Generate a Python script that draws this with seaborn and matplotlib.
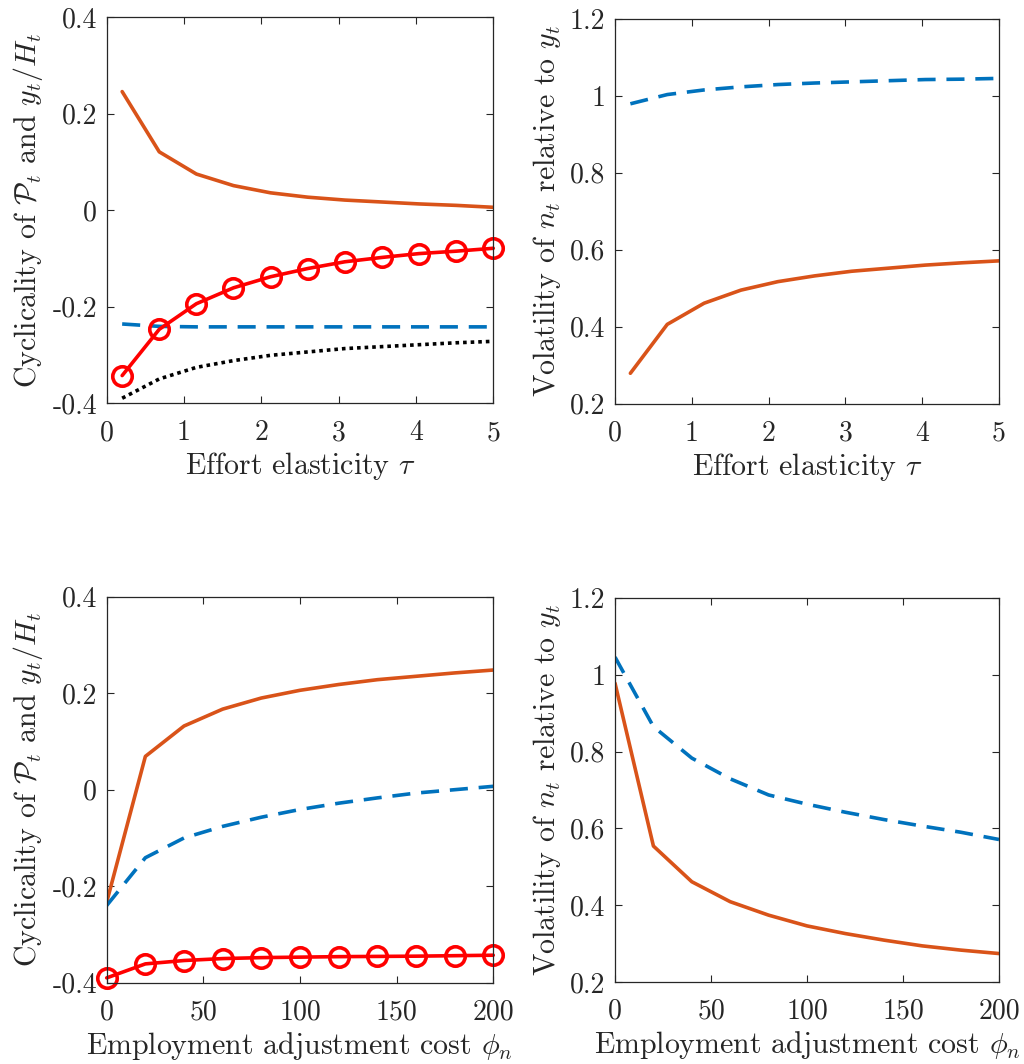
import numpy as np
import pandas as pd
import matplotlib
matplotlib.use("Agg")
import matplotlib.pyplot as plt
from matplotlib.ticker import FuncFormatter
import seaborn as sns

# ---------------- data ----------------
tau = [0.2, 0.68, 1.16, 1.64, 2.12, 2.6, 3.08, 3.56, 4.04, 4.52, 5.0]
phi_n = [0, 20, 40, 60, 80, 100, 120, 140, 160, 180, 200]

# top-left: cyclicality vs tau
tl_orange = [0.246, 0.121, 0.075, 0.051, 0.036, 0.027, 0.021, 0.017, 0.013, 0.010, 0.006]
tl_red = [-0.343, -0.247, -0.194, -0.161, -0.138, -0.121, -0.107, -0.098, -0.090, -0.085, -0.079]
tl_blue = [-0.236, -0.241, -0.242, -0.242, -0.242, -0.242, -0.242, -0.242, -0.242, -0.242, -0.242]
tl_black = [-0.390, -0.350, -0.326, -0.312, -0.301, -0.294, -0.287, -0.283, -0.279, -0.275, -0.272]

# top-right: volatility vs tau
tr_blue = [0.979, 1.003, 1.015, 1.023, 1.029, 1.033, 1.036, 1.039, 1.042, 1.043, 1.045]
tr_orange = [0.279, 0.406, 0.461, 0.495, 0.517, 0.532, 0.544, 0.552, 0.560, 0.566, 0.571]

# bottom-left: cyclicality vs phi_n
bl_orange = [-0.233, 0.069, 0.132, 0.167, 0.190, 0.206, 0.218, 0.228, 0.235, 0.242, 0.248]
bl_blue = [-0.240, -0.141, -0.100, -0.076, -0.057, -0.041, -0.028, -0.017, -0.007, 0.000, 0.007]
bl_red = [-0.390, -0.361, -0.354, -0.350, -0.348, -0.347, -0.346, -0.3455, -0.345, -0.344, -0.343]

# bottom-right: volatility vs phi_n
br_blue = [1.046, 0.865, 0.783, 0.729, 0.687, 0.663, 0.642, 0.623, 0.606, 0.590, 0.571]
br_orange = [0.978, 0.554, 0.461, 0.409, 0.374, 0.346, 0.326, 0.309, 0.294, 0.283, 0.274]

xlabel_top = r"Effort elasticity $\tau$"
xlabel_bot = r"Employment adjustment cost $\phi_n$"
ylabel_cyc = r"Cyclicality of $\mathcal{P}_t$ and $y_t/H_t$"
ylabel_vol = r"Volatility of $n_t$ relative to $y_t$"

# ---------------- style ----------------
sns.set_theme(style="white")
plt.rcParams["font.family"] = ["cmr10", "DejaVu Serif"]
plt.rcParams["mathtext.fontset"] = "cm"
plt.rcParams["axes.unicode_minus"] = False
plt.rcParams["axes.formatter.use_mathtext"] = False

ORANGE = "#D95319"
BLUE = "#0072BD"
RED = "#FF0000"
AXC = "#262626"
LW = 2.6
FS_TICK = 20
FS_LAB = 21.5

fig = plt.figure(figsize=(10.24, 10.64), dpi=100)
ax_tl = fig.add_axes([0.1042, 0.6212, 0.3775, 0.3625])
ax_tr = fig.add_axes([0.6006, 0.6206, 0.375, 0.3618])
ax_bl = fig.add_axes([0.1042, 0.0764, 0.3775, 0.3628])
ax_br = fig.add_axes([0.6006, 0.0771, 0.375, 0.3609])

dash = (0, (5.0, 3.0))
dot = (0, (1.0, 1.1))
circ = dict(marker="o", markersize=14, markerfacecolor="none",
            markeredgecolor=RED, markeredgewidth=2.6, clip_on=False)

# top-left
sns.lineplot(x=tau, y=tl_orange, ax=ax_tl, color=ORANGE, lw=LW)
sns.lineplot(x=tau, y=tl_blue, ax=ax_tl, color=BLUE, lw=LW, linestyle=dash)
sns.lineplot(x=tau, y=tl_black, ax=ax_tl, color="black", lw=LW, linestyle=dot)
sns.lineplot(x=tau, y=tl_red, ax=ax_tl, color=RED, lw=LW, **circ)

# top-right
sns.lineplot(x=tau, y=tr_orange, ax=ax_tr, color=ORANGE, lw=LW)
sns.lineplot(x=tau, y=tr_blue, ax=ax_tr, color=BLUE, lw=LW, linestyle=dash)

# bottom-left
sns.lineplot(x=phi_n, y=bl_orange, ax=ax_bl, color=ORANGE, lw=LW)
sns.lineplot(x=phi_n, y=bl_blue, ax=ax_bl, color=BLUE, lw=LW, linestyle=dash)
sns.lineplot(x=phi_n, y=bl_red, ax=ax_bl, color=RED, lw=LW, **circ)

# bottom-right
sns.lineplot(x=phi_n, y=br_orange, ax=ax_br, color=ORANGE, lw=LW)
sns.lineplot(x=phi_n, y=br_blue, ax=ax_br, color=BLUE, lw=LW, linestyle=dash)

fmt = FuncFormatter(lambda v, p: ("%g" % round(v, 6)))

def style(ax, xlim, xticks, ylim, yticks, xlabel, ylabel):
    ax.set_xlim(*xlim)
    ax.set_ylim(*ylim)
    ax.set_xticks(xticks)
    ax.set_yticks(yticks)
    ax.xaxis.set_major_formatter(fmt)
    ax.yaxis.set_major_formatter(fmt)
    ax.tick_params(direction="in", length=5, width=0.8, colors=AXC,
                   labelsize=FS_TICK, top=True, right=True, bottom=True, left=True)
    ax.tick_params(axis="x", pad=12)
    ax.tick_params(axis="y", pad=7)
    for s in ax.spines.values():
        s.set_visible(True)
        s.set_color(AXC)
        s.set_linewidth(0.9)
    ax.set_xlabel(xlabel, fontsize=FS_LAB, color=AXC, labelpad=3)
    ax.set_ylabel(ylabel, fontsize=FS_LAB, color=AXC, labelpad=5)
    ax.set_facecolor("white")
    ax.grid(False)

style(ax_tl, (0, 5), [0, 1, 2, 3, 4, 5], (-0.4, 0.4), [-0.4, -0.2, 0, 0.2, 0.4], xlabel_top, ylabel_cyc)
style(ax_tr, (0, 5), [0, 1, 2, 3, 4, 5], (0.2, 1.2), [0.2, 0.4, 0.6, 0.8, 1.0, 1.2], xlabel_top, ylabel_vol)
style(ax_bl, (0, 200), [0, 50, 100, 150, 200], (-0.4, 0.4), [-0.4, -0.2, 0, 0.2, 0.4], xlabel_bot, ylabel_cyc)
style(ax_br, (0, 200), [0, 50, 100, 150, 200], (0.2, 1.2), [0.2, 0.4, 0.6, 0.8, 1.0, 1.2], xlabel_bot, ylabel_vol)

fig.savefig("out.png", dpi=100, facecolor="white")
